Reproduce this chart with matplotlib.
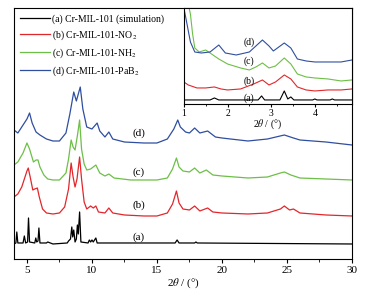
import matplotlib
matplotlib.use('Agg')
import matplotlib.pyplot as plt
from matplotlib.ticker import MultipleLocator

plt.rcParams['font.family'] = ['Liberation Serif', 'DejaVu Serif']
plt.rcParams['mathtext.fontset'] = 'stix'

# main pattern, 2theta in degrees, intensities already stacked
x_a = [4.0, 4.15, 4.22, 4.3, 4.7, 4.8, 4.9, 5.05, 5.12, 5.2, 5.6, 5.68, 5.75, 5.85, 5.92, 6.0,
       6.5, 6.6, 7.0, 8.1, 8.2, 8.35, 8.45, 8.52, 8.6, 8.7, 8.8, 8.88, 8.95, 9.05, 9.15, 9.7,
       9.8, 9.9, 10.0, 10.1, 10.3, 10.4, 11.2, 16.4, 16.55, 16.7, 17.9, 18.0, 18.1, 30.0]
y_a = [15, 16, 27, 16, 16, 23, 16, 17, 41, 17, 16, 21, 17, 18, 31, 16,
       16, 17, 15, 16, 18, 20, 32, 22, 29, 17, 20, 34, 25, 47, 17, 16,
       19, 17, 19, 17, 21, 16, 16, 16, 19, 16, 16, 17, 16, 15]

x_b = [4.0, 4.3, 4.6, 4.8, 5.0, 5.1, 5.25, 5.45, 5.6, 5.8, 5.95, 6.2, 6.5, 7.0, 7.5, 7.9, 8.2,
       8.4, 8.55, 8.7, 8.85, 9.05, 9.2, 9.4, 9.6, 9.9, 10.1, 10.3, 10.5, 11.0, 11.3, 11.6, 12.5,
       14.0, 15.0, 15.8, 16.2, 16.5, 16.7, 17.0, 17.5, 17.9, 18.3, 18.9, 19.3, 20.0, 22.0, 23.5,
       24.5, 24.8, 25.2, 25.5, 26.0, 28.0, 30.0]
y_b = [62, 65, 72, 80, 88, 91, 82, 69, 70, 71, 62, 50, 46, 45, 46, 52, 70,
       96, 82, 72, 80, 102, 80, 57, 50, 53, 51, 53, 47, 46, 51, 46, 44,
       43, 43, 46, 55, 68, 56, 50, 49, 53, 48, 51, 47, 46, 45, 46,
       50, 53, 49, 50, 46, 44, 43]

x_c = [4.0, 4.3, 4.7, 5.0, 5.2, 5.5, 5.7, 5.85, 6.0, 6.3, 6.6, 7.0, 7.5, 8.0, 8.2, 8.4, 8.55,
       8.7, 8.9, 9.05, 9.2, 9.4, 9.6, 9.9, 10.3, 10.6, 11.0, 11.3, 11.7, 13.0, 15.0, 15.8, 16.2,
       16.5, 16.7, 17.0, 17.5, 17.9, 18.3, 18.8, 19.3, 20.0, 22.0, 23.5, 24.5, 24.8, 25.3, 26.0,
       28.0, 30.0]
y_c = [94, 97, 106, 116, 110, 97, 99, 99, 92, 84, 80, 79, 79, 86, 100, 119, 112,
       109, 125, 139, 110, 95, 89, 90, 94, 86, 83, 85, 81, 79, 79, 81, 90,
       101, 92, 88, 87, 91, 86, 89, 84, 83, 81, 82, 86, 87, 84, 81,
       80, 79]

x_d = [4.0, 4.3, 4.6, 5.0, 5.2, 5.4, 5.7, 6.0, 6.5, 7.0, 7.5, 8.0, 8.3, 8.6, 8.8, 8.95, 9.1,
       9.3, 9.6, 10.0, 10.4, 10.6, 11.0, 11.3, 11.6, 12.5, 14.0, 15.0, 15.8, 16.3, 16.6, 16.8,
       17.2, 17.5, 17.9, 18.3, 18.9, 19.5, 20.0, 22.0, 23.5, 24.8, 25.5, 26.0, 28.0, 30.0]
y_d = [129, 126, 132, 140, 146, 136, 127, 124, 120, 118, 118, 126, 145, 167, 158, 165, 172,
       150, 132, 130, 136, 128, 122, 127, 120, 117, 116, 116, 120, 130, 139, 132,
       127, 126, 131, 126, 128, 122, 121, 118, 120, 124, 121, 119, 117, 114]

# low-angle inset
xi_a = [1.0, 1.6, 1.7, 1.8, 2.7, 2.78, 2.85, 3.2, 3.3, 3.38, 3.45, 3.52, 3.95, 4.0, 4.05,
        4.35, 4.4, 4.45, 4.85]
yi_a = [4, 4, 6, 4, 4, 8, 4, 4, 13, 5, 7, 4, 4, 5, 4, 4, 5, 4, 4]
xi_b = [1.0, 1.1, 1.3, 1.5, 1.7, 1.85, 2.0, 2.3, 2.6, 2.8, 2.95, 3.1, 3.3, 3.45, 3.6, 3.8,
        4.0, 4.3, 4.6, 4.85]
yi_b = [22, 19, 16, 16, 17, 15, 14, 15, 20, 24, 19, 22, 29, 25, 17, 14, 13, 14, 14, 15]
xi_c = [1.1, 1.15, 1.2, 1.25, 1.35, 1.5, 1.6, 1.8, 2.0, 2.3, 2.5, 2.65, 2.8, 2.95, 3.1, 3.3,
        3.45, 3.6, 3.8, 4.0, 4.3, 4.6, 4.85]
yi_c = [100, 90, 70, 56, 52, 54, 51, 45, 40, 36, 34, 37, 41, 36, 38, 46, 40, 30, 27, 26,
        25, 23, 24]
xi_d = [1.0, 1.05, 1.15, 1.25, 1.4, 1.6, 1.8, 1.95, 2.2, 2.5, 2.65, 2.8, 2.95, 3.05, 3.3,
        3.45, 3.6, 3.8, 4.0, 4.3, 4.6, 4.85]
yi_d = [96, 85, 62, 52, 51, 52, 59, 51, 49, 52, 58, 64, 58, 53, 61, 56, 45, 43, 42, 42,
        42, 44]

names = ['(a) Cr-MIL-101 (simulation)', '(b) Cr-MIL-101-NO$_2$',
         '(c) Cr-MIL-101-NH$_2$', '(d) Cr-MIL-101-PaB$_2$']
tags = ['(a)', '(b)', '(c)', '(d)']
colors = ['black', '#e3262b', '#6dbf47', '#2f4ea0']

fig = plt.figure(figsize=(3.67, 2.97), dpi=100)
ax = fig.add_axes([0.038, 0.128, 0.921, 0.845])
for xs, ys, c, n in zip([x_a, x_b, x_c, x_d], [y_a, y_b, y_c, y_d], colors, names):
    ax.plot(xs, ys, color=c, lw=0.9, label=n)
for t, yy in zip(tags, [22, 54, 87, 126]):
    ax.text(13.6, yy, t, fontsize=8, ha='center', va='center')
ax.set_xlim(4, 30)
ax.set_ylim(0, 251)
ax.set_yticks([])
ax.xaxis.set_major_locator(MultipleLocator(5))
ax.xaxis.set_minor_locator(MultipleLocator(2.5))
ax.tick_params(axis='x', which='major', length=3, labelsize=8, pad=2)
ax.tick_params(axis='x', which='minor', length=2)
ax.set_xlabel('2$\\theta$ / (°)', fontsize=8, labelpad=1)
ax.legend(loc='upper left', frameon=False, fontsize=7, handlelength=3.1,
          labelspacing=0.45, borderaxespad=0.25, handletextpad=0.2)

ins = fig.add_axes([0.501, 0.650, 0.458, 0.323])
for xs, ys, c in zip([xi_a, xi_b, xi_c, xi_d], [yi_a, yi_b, yi_c, yi_d], colors):
    ins.plot(xs, ys, color=c, lw=0.8)
for t, yy in zip(tags, [6, 23, 43, 62]):
    ins.text(2.5, yy, t, fontsize=7, ha='center', va='center')
ins.set_xlim(1, 4.85)
ins.set_ylim(0, 96)
ins.set_yticks([])
ins.xaxis.set_major_locator(MultipleLocator(1))
ins.xaxis.set_minor_locator(MultipleLocator(0.5))
ins.tick_params(axis='x', which='major', length=2.5, labelsize=7, pad=1)
ins.tick_params(axis='x', which='minor', length=1.5)
ins.set_xlabel('2$\\theta$ / (°)', fontsize=7, labelpad=0)

fig.savefig('out.png', dpi=100)
